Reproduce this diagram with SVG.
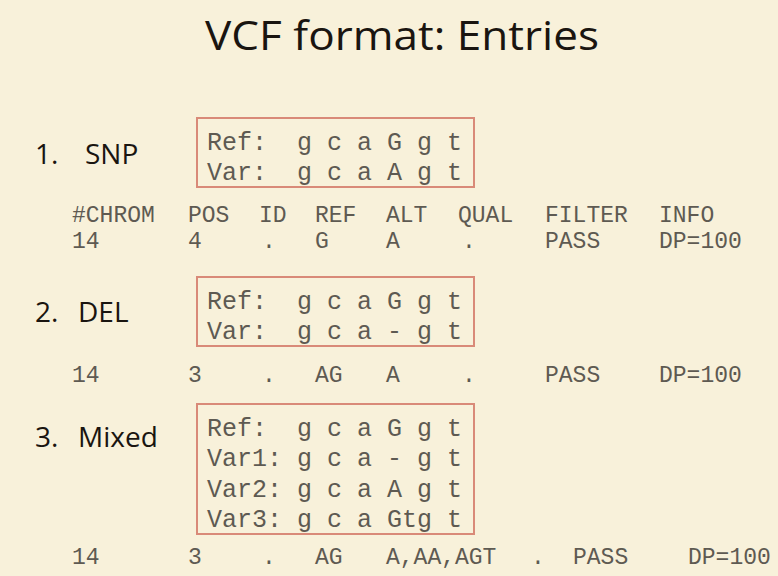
<svg xmlns="http://www.w3.org/2000/svg" width="778" height="576" viewBox="0 0 778 576">
<style>
.t{font-family:"Open Sans","Liberation Sans",sans-serif;fill:#1a1510}
.l{font-size:28px}
.m{font-family:"Liberation Mono","Courier New",monospace;fill:#5e5a52;white-space:pre}
.b{fill:none;stroke:#d98a78;stroke-width:2}
.s{font-size:25px}
.r{font-size:23px}
</style>
<rect width="778" height="576" fill="#f8f1da"/>
<text class="t" x="402" y="50" font-size="41" text-anchor="middle" textLength="394" lengthAdjust="spacingAndGlyphs">VCF format: Entries</text>
<g id="snp">
<text class="t l" x="35" y="164">1.</text><text class="t l" x="85" y="164">SNP</text>
<rect class="b" x="197" y="118" width="277" height="69"/>
<text class="m s" x="207" y="150">Ref:  g c a G g t</text>
<text class="m s" x="207" y="180">Var:  g c a A g t</text>
<g class="m r">
<text x="72" y="222">#CHROM</text><text x="188" y="222">POS</text><text x="259" y="222">ID</text><text x="315" y="222">REF</text><text x="386" y="222">ALT</text><text x="458" y="222">QUAL</text><text x="545" y="222">FILTER</text><text x="659" y="222">INFO</text>
<text x="72" y="248">14</text><text x="188" y="248">4</text><text x="262" y="248">.</text><text x="315" y="248">G</text><text x="386" y="248">A</text><text x="462" y="248">.</text><text x="545" y="248">PASS</text><text x="659" y="248">DP=100</text>
</g>
</g>
<g id="del">
<text class="t l" x="35" y="322">2.</text><text class="t l" x="78" y="322">DEL</text>
<rect class="b" x="197" y="277" width="277" height="69"/>
<text class="m s" x="207" y="309">Ref:  g c a G g t</text>
<text class="m s" x="207" y="339">Var:  g c a - g t</text>
<g class="m r">
<text x="72" y="382">14</text><text x="188" y="382">3</text><text x="262" y="382">.</text><text x="315" y="382">AG</text><text x="386" y="382">A</text><text x="462" y="382">.</text><text x="545" y="382">PASS</text><text x="659" y="382">DP=100</text>
</g>
</g>
<g id="mixed">
<text class="t l" x="35" y="447">3.</text><text class="t l" x="78" y="447">Mixed</text>
<rect class="b" x="197" y="404" width="277" height="130"/>
<text class="m s" x="207" y="436">Ref:  g c a G g t</text>
<text class="m s" x="207" y="466">Var1: g c a - g t</text>
<text class="m s" x="207" y="497">Var2: g c a A g t</text>
<text class="m s" x="207" y="527">Var3: g c a Gtg t</text>
<g class="m r">
<text x="72" y="564">14</text><text x="188" y="564">3</text><text x="262" y="564">.</text><text x="315" y="564">AG</text><text x="386" y="564">A,AA,AGT</text><text x="531" y="564">.</text><text x="573" y="564">PASS</text><text x="688" y="564">DP=100</text>
</g>
</g>
<g id="connectors"/>
</svg>
